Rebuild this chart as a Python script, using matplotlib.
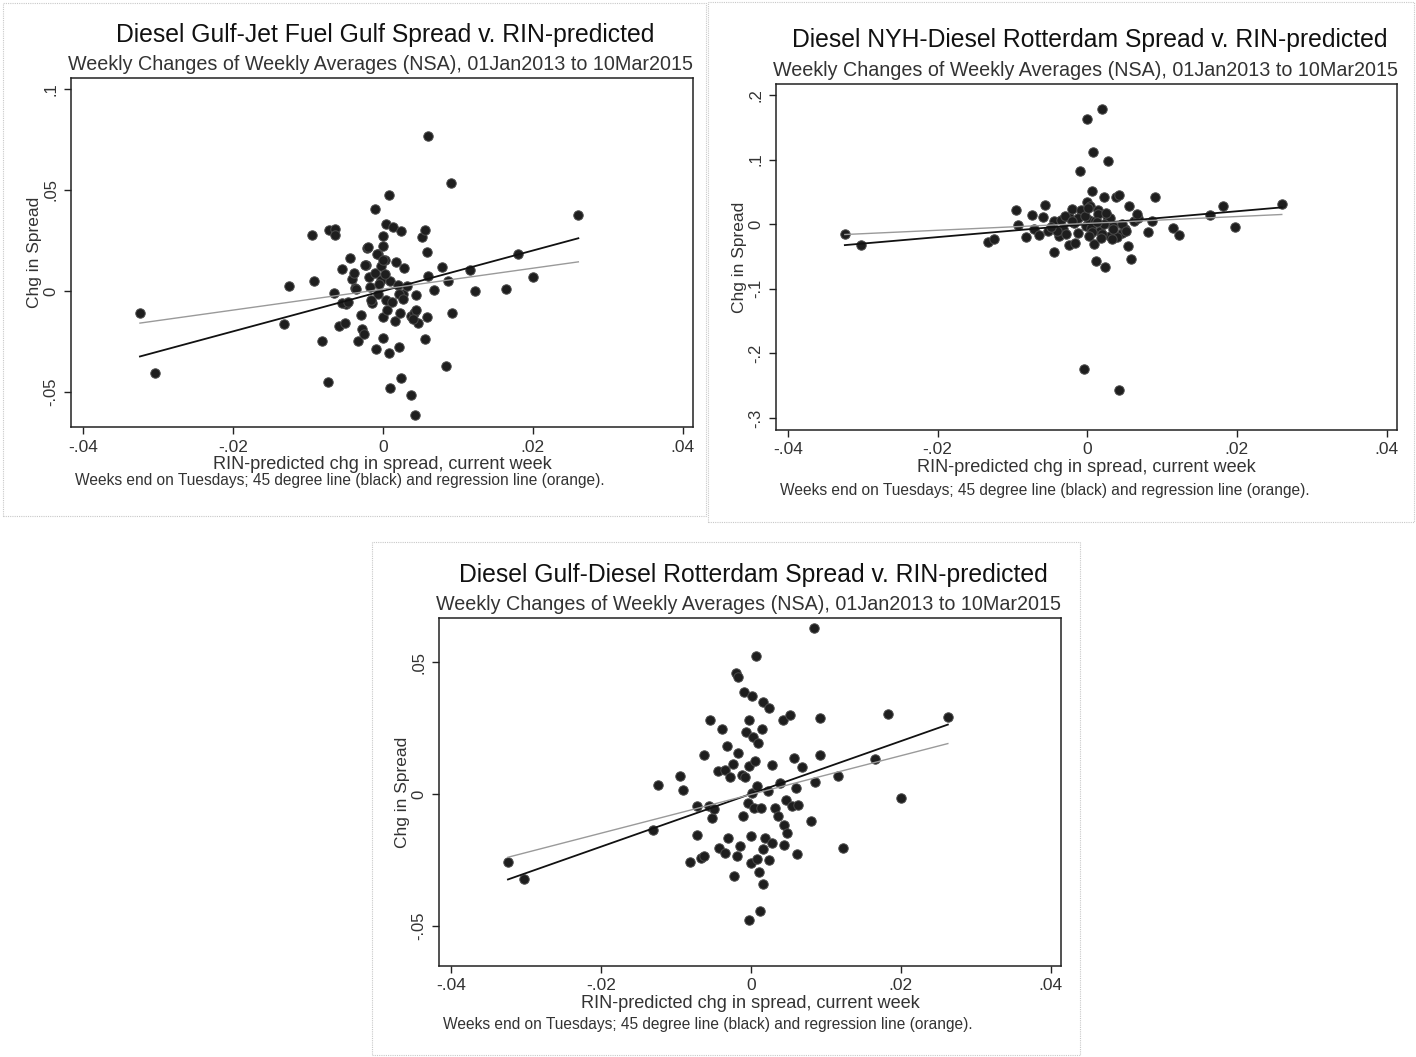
import numpy as np
import matplotlib
matplotlib.use("Agg")
import matplotlib.pyplot as plt
from matplotlib.patches import Rectangle

plt.rcParams['font.family'] = ['Liberation Sans', 'DejaVu Sans']

W, H = 1416, 1057

# panel 1: Diesel Gulf - Jet Fuel Gulf
x1 = [-0.0324, -0.0304, -0.0132, -0.0125, -0.0095, -0.0092, -0.0081, -0.0073, -0.0072, -0.0064,
      -0.0064, -0.0065, -0.0059, -0.0055, -0.0050, -0.0049, -0.0044, -0.0041, -0.0037, -0.0033,
      -0.0029, -0.0028, -0.0025, -0.0022, -0.0021, -0.0018, -0.0017, -0.0015, -0.0011, -0.0010,
      -0.0009, -0.0007, -0.0006, -0.0003, -0.0002, 0.0000, 0.0000, 0.0001, 0.0001, 0.0003,
      0.0004, 0.0005, 0.0008, 0.0008, 0.0010, 0.0010, 0.0012, 0.0014, 0.0016, 0.0018,
      0.0021, 0.0022, 0.0023, 0.0024, 0.0024, 0.0027, 0.0029, 0.0032, 0.0038, 0.0038,
      0.0042, 0.0043, 0.0045, 0.0047, 0.0052, 0.0056, 0.0057, 0.0059, 0.0059, 0.0060,
      0.0061, 0.0068, 0.0079, 0.0084, 0.0087, 0.0091, 0.0092, 0.0116, 0.0123, 0.0165,
      0.0181, 0.0200, 0.0261, -0.0020, -0.0024, -0.0008, 0.0001, 0.0003, -0.0005, -0.0016,
      0.0006, 0.0022, 0.0027, 0.0044, 0.0041, -0.0038, -0.0036, -0.0054, -0.0046]
y1 = [-0.0107, -0.0405, -0.0165, 0.0025, 0.0278, 0.0051, -0.0246, -0.0448, 0.0301, 0.0309,
      0.0276, -0.0008, -0.0175, 0.0109, -0.0159, -0.0063, 0.0165, 0.0058, 0.0017, -0.0248,
      -0.0117, -0.0187, -0.0212, 0.0131, 0.0215, 0.0071, 0.0020, -0.0058, 0.0091, 0.0405,
      -0.0288, 0.0185, -0.0017, 0.0124, 0.0053, -0.0235, 0.0225, 0.0271, -0.0129, 0.0152,
      -0.0046, 0.0334, 0.0474, -0.0306, 0.0048, -0.0481, -0.0055, 0.0317, -0.0149, 0.0144,
      0.0031, -0.0278, -0.0107, 0.0296, -0.0431, -0.0013, 0.0114, 0.0023, -0.0124, -0.0514,
      -0.0107, -0.0613, -0.0021, -0.0157, 0.0268, -0.0238, 0.0301, 0.0193, -0.0129, 0.0767,
      0.0074, 0.0007, 0.0119, -0.0372, 0.0048, 0.0536, -0.0109, 0.0102, 0.0000, 0.0010,
      0.0185, 0.0069, 0.0375, 0.0219, 0.0127, 0.0185, 0.0152, 0.0086, 0.0036, -0.0046,
      -0.0096, -0.0013, -0.0038, -0.0096, -0.0137, 0.0089, 0.0012, -0.0060, -0.0055]

# panel 2: Diesel NYH - Diesel Rotterdam
x2 = [-0.0324, -0.0303, -0.0132, -0.0125, -0.0095, -0.0092, -0.0082, -0.0074, -0.0071, -0.0064,
      -0.0059, -0.0056, -0.0052, -0.0045, -0.0044, -0.0038, -0.0035, -0.0032, -0.0025, -0.0024,
      -0.0021, -0.0016, -0.0013, -0.0010, -0.0007, -0.0005, -0.0002, 0.0000, 0.0000, 0.0002,
      0.0004, 0.0006, 0.0008, 0.0009, 0.0012, 0.0015, 0.0017, 0.0020, 0.0023, 0.0024,
      0.0026, 0.0028, 0.0031, 0.0035, 0.0038, 0.0042, 0.0042, 0.0046, 0.0050, 0.0055,
      0.0056, 0.0059, 0.0062, 0.0068, 0.0081, 0.0087, 0.0091, 0.0115, 0.0123, 0.0164,
      0.0181, 0.0198, 0.0260, -0.0030, -0.0018, -0.0008, 0.0010, 0.0020, 0.0030, -0.0040,
      0.0005, -0.0012, 0.0014, 0.0040, 0.0066, -0.0048, 0.0022, 0.0034, -0.0028, -0.0003,
      0.0001, 0.0007, 0.0013, 0.0018, 0.0025, 0.0033, 0.0047, 0.0052, -0.0020, 0.0003]
y2 = [-0.0149, -0.0325, -0.0273, -0.0232, 0.0216, -0.0015, -0.0201, 0.0149, -0.0082, -0.0170,
      0.0113, 0.0304, -0.0098, -0.0433, 0.0046, -0.0186, 0.0072, -0.0082, 0.0108, -0.0325,
      0.0242, -0.0289, -0.0134, 0.0830, 0.0175, -0.2247, -0.0031, 0.1629, 0.0345, 0.0072,
      0.0278, 0.0510, 0.1119, -0.0314, -0.0572, 0.0227, -0.0098, 0.1784, 0.0418, -0.0660,
      0.0124, 0.0974, -0.0186, -0.0031, 0.0423, 0.0448, -0.2567, -0.0134, -0.0067, -0.0340,
      0.0278, -0.0536, 0.0046, 0.0098, -0.0124, 0.0046, 0.0423, -0.0057, -0.0175, 0.0149,
      0.0289, -0.0041, 0.0309, 0.0120, 0.0020, 0.0220, 0.0050, -0.0150, 0.0100, -0.0100,
      -0.0060, 0.0090, 0.0160, -0.0200, 0.0150, -0.0050, 0.0010, -0.0080, -0.0150, 0.0130,
      0.0250, -0.0120, 0.0040, -0.0210, 0.0180, -0.0230, 0.0000, -0.0110, 0.0050, -0.0180]

# panel 3: Diesel Gulf - Diesel Rotterdam
x3 = [-0.0324, -0.0303, -0.0130, -0.0124, -0.0094, -0.0090, -0.0081, -0.0072, -0.0072, -0.0066,
      -0.0063, -0.0062, -0.0056, -0.0054, -0.0052, -0.0049, -0.0044, -0.0043, -0.0039, -0.0035,
      -0.0034, -0.0032, -0.0031, -0.0028, -0.0024, -0.0022, -0.0020, -0.0017, -0.0018, -0.0017,
      -0.0015, -0.0012, -0.0010, -0.0009, -0.0008, -0.0006, -0.0004, -0.0003, -0.0002, -0.0002,
      0.0000, 0.0001, 0.0002, 0.0002, 0.0003, 0.0004, 0.0006, 0.0007, 0.0009, 0.0009,
      0.0010, 0.0011, 0.0012, 0.0014, 0.0015, 0.0017, 0.0017, 0.0017, 0.0019, 0.0023,
      0.0025, 0.0025, 0.0028, 0.0029, 0.0032, 0.0037, 0.0039, 0.0043, 0.0045, 0.0045,
      0.0047, 0.0049, 0.0052, 0.0055, 0.0058, 0.0060, 0.0062, 0.0063, 0.0069, 0.0081,
      0.0084, 0.0086, 0.0092, 0.0092, 0.0117, 0.0123, 0.0166, 0.0183, 0.0201, 0.0263]
y3 = [-0.0258, -0.0324, -0.0135, 0.0033, 0.0067, 0.0016, -0.0259, -0.0157, -0.0047, -0.0242,
      0.0149, -0.0234, -0.0047, 0.0282, -0.0091, -0.0057, 0.0088, -0.0205, 0.0246, -0.0223,
      0.0092, 0.0181, -0.0167, 0.0063, 0.0115, -0.0312, 0.0458, 0.0442, -0.0234, 0.0155,
      -0.0196, 0.0073, -0.0082, 0.0386, 0.0064, 0.0235, -0.0034, 0.0279, 0.0105, -0.0476,
      -0.0261, -0.0160, 0.0370, 0.0004, 0.0215, -0.0053, 0.0124, 0.0524, 0.0029, -0.0246,
      0.0193, -0.0297, -0.0444, -0.0053, 0.0246, -0.0341, 0.0348, -0.0208, -0.0167, 0.0010,
      0.0326, -0.0249, 0.0111, -0.0186, -0.0053, -0.0085, 0.0042, 0.0282, -0.0192, -0.0119,
      -0.0021, -0.0148, 0.0298, -0.0047, 0.0136, 0.0023, -0.0227, -0.0043, 0.0101, -0.0104,
      0.0629, 0.0044, 0.0288, 0.0146, 0.0067, -0.0205, 0.0133, 0.0304, -0.0015, 0.0290]

titles = ["Diesel Gulf-Jet Fuel Gulf Spread v. RIN-predicted",
          "Diesel NYH-Diesel Rotterdam Spread v. RIN-predicted",
          "Diesel Gulf-Diesel Rotterdam Spread v. RIN-predicted"]
subtitle = "Weekly Changes of Weekly Averages (NSA), 01Jan2013 to 10Mar2015"
note = "Weeks end on Tuesdays; 45 degree line (black) and regression line (orange)."

# regression (slope, intercept)
reg = [(0.518, 0.0009), (0.531, 0.0012), (0.734, -0.0002)]

yticks = [[0.1, 0.05, 0, -0.05], [0.2, 0.1, 0, -0.1, -0.2, -0.3], [0.05, 0, -0.05]]
yticklabels = [[".1", ".05", "0", "-.05"], [".2", ".1", "0", "-.1", "-.2", "-.3"], [".05", "0", "-.05"]]
ylims = [(-0.0673, 0.1054), (-0.3186, 0.217), (-0.0652, 0.0667)]
xticks = [-0.04, -0.02, 0, 0.02, 0.04]
xticklabels = ["-.04", "-.02", "0", ".02", ".04"]

# axes frames in pixels: left, top, right, bottom
frames = [(71, 78, 693, 427), (776, 84, 1397, 430), (439, 618, 1061, 966)]
boxes = [(3, 3, 706, 516), (708, 2, 1414, 522), (372, 542, 1080, 1055)]
title_y = [35, 40, 575]
sub_y = [65, 70, 604]
note_off = [54, 61, 59]

fig = plt.figure(figsize=(W / 100, H / 100), dpi=100)

for (l, t, r, b) in boxes:
    fig.add_artist(Rectangle((l / W, 1 - b / H), (r - l) / W, (b - t) / H,
                             transform=fig.transFigure, fill=False,
                             edgecolor='#c8c8c8', linewidth=0.8, linestyle=(0, (1, 1))))

data = [(x1, y1), (x2, y2), (x3, y3)]
for i, (xs, ys) in enumerate(data):
    l, t, r, b = frames[i]
    ax = fig.add_axes([l / W, 1 - b / H, (r - l) / W, (b - t) / H])
    xs = np.array(xs)
    ys = np.array(ys)
    ax.scatter(xs, ys, s=46, color='#1e1e1e', edgecolors='#4a4a4a', linewidths=0.7, zorder=3)
    xl = np.array([xs.min(), xs.max()])
    ax.plot(xl, xl, color='#111111', linewidth=1.3, zorder=4)
    sl, ic = reg[i]
    ax.plot(xl, sl * xl + ic, color='#9a9a9a', linewidth=1.0, zorder=4)

    ax.set_xlim(-0.0416, 0.0414)
    ax.set_ylim(*ylims[i])
    ax.set_xticks(xticks)
    ax.set_xticklabels(xticklabels, fontsize=12.5, color='#333333')
    ax.set_yticks(yticks[i])
    ax.set_yticklabels(yticklabels[i], fontsize=12, color='#333333', rotation=90, va='center')
    ax.tick_params(direction='out', length=5, width=1, colors='#222222', labelcolor='#333333', pad=4)
    for sp in ax.spines.values():
        sp.set_linewidth(1.1)
        sp.set_color('#222222')
    ax.set_xlabel("RIN-predicted chg in spread, current week", fontsize=13.1, color='#333333', labelpad=1)
    ax.set_ylabel("Chg in Spread", fontsize=12.5, color='#333333', labelpad=1)

    cx = (l + r) / 2
    fig.text((cx + 3) / W, 1 - title_y[i] / H, titles[i], fontsize=17.8, ha='center', va='center', color='#111111')
    fig.text((cx - 1) / W, 1 - sub_y[i] / H, subtitle, fontsize=14.2, ha='center', va='center', color='#333333')
    fig.text((l + 4) / W, 1 - (b + note_off[i]) / H, note, fontsize=11.2, ha='left', va='center', color='#333333')

fig.savefig("out.png", dpi=100, facecolor='white')
